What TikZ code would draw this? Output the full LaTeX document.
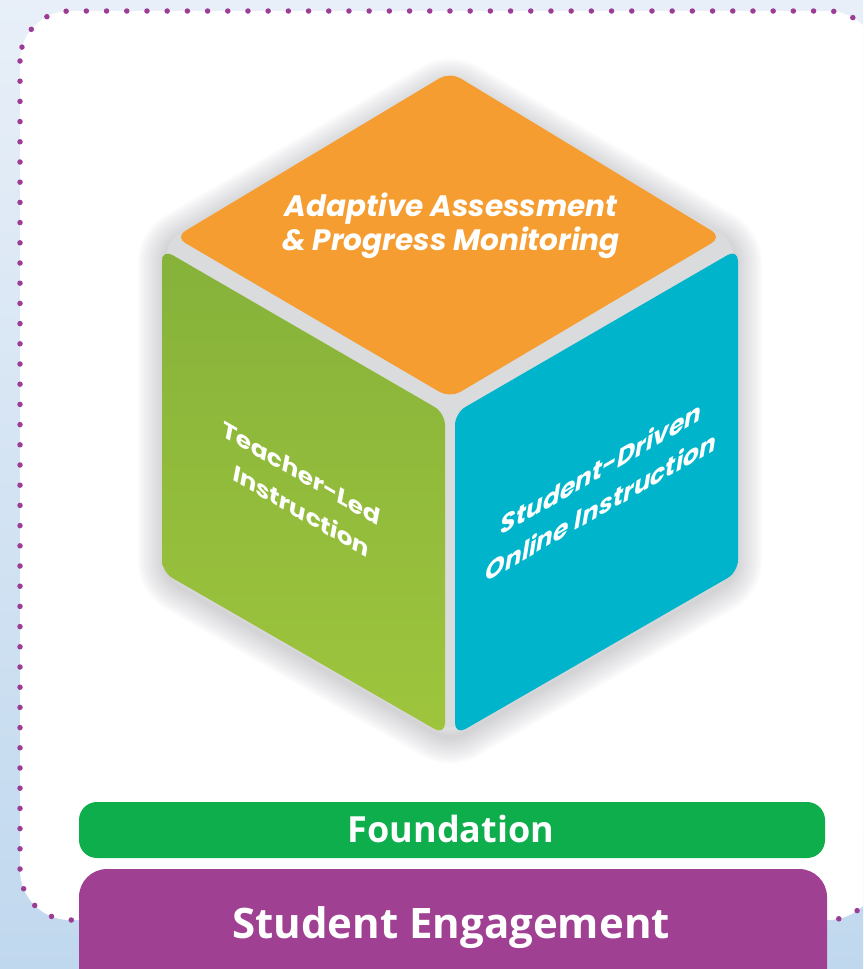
\documentclass[tikz,border=0pt]{standalone}
\usepackage{fontspec}
\setmainfont{Open Sans}
\newfontfamily\cubefont{Poppins}
\newfontfamily\barfont{Open Sans}
\definecolor{bgTop}{HTML}{E8EFF8}
\definecolor{bgBot}{HTML}{C0D8EE}
\definecolor{dotPurple}{HTML}{9C3C95}
\definecolor{faceOrange}{HTML}{F59D31}
\definecolor{faceGreenTop}{HTML}{86B23B}
\definecolor{faceGreenBot}{HTML}{9EC53C}
\definecolor{faceBlue}{HTML}{00B5CB}
\definecolor{gapGray}{HTML}{DADBDD}
\definecolor{shadowGray}{HTML}{707378}
\definecolor{foundGreen}{HTML}{0DAE4B}
\definecolor{engPurple}{HTML}{A04092}
\begin{document}
\begin{tikzpicture}[x=1pt,y=-1pt,
  face/.style={rounded corners=12pt},
  cubetext/.style={text=white, align=center, inner sep=0pt},
  bartext/.style={text=white, inner sep=0pt, anchor=base}]
\clip (0,0) rectangle (863,969);
\shade[top color=bgTop, bottom color=bgBot] (0,0) rectangle (863,969);
% white panel with dotted border
\fill[white, rounded corners=50pt] (20,11) rectangle (878,920);
\draw[dotPurple, line width=5.5pt, line cap=round, dash pattern=on 0pt off 20.2pt, rounded corners=50pt] (20,11) rectangle (878,920);
% soft shadow of the cube
\begin{scope}[yshift=-6pt]
\foreach \w in {4,8,...,52}
  \draw[shadowGray, opacity=0.022, line width=\w pt, line join=round, rounded corners=16pt]
    (450,74) -- (164,240) -- (164,572) -- (450,736) -- (736,572) -- (736,240) -- cycle;
\end{scope}
% cube base (visible in the gaps)
\fill[gapGray, rounded corners=16pt]
  (450,76) -- (166,241) -- (166,571) -- (450,732) -- (734,571) -- (734,241) -- cycle;
% faces
\fill[faceOrange, face] (450,72) -- (175,237) -- (450,398) -- (722,237) -- cycle;
\shade[face, top color=faceGreenTop, bottom color=faceGreenBot] (162,249) -- (445,413) -- (445,735) -- (162,572) -- cycle;
\fill[faceBlue, face] (455,413) -- (738,249) -- (738,572) -- (455,735) -- cycle;
% texts
\node[cubetext, font=\cubefont\bfseries\itshape\fontsize{29.5}{34}\selectfont] (topText) at (451,226) {Adaptive Assessment\\\& Progress Monitoring};
\begin{scope}[shift={(301,492)}, cm={1,-0.577,0,1,(0,0)}]
\node[cubetext, transform shape, font=\cubefont\bfseries\itshape\fontsize{24}{38}\selectfont] (leftText) at (0,0) {Teacher-Led\\Instruction};
\end{scope}
\begin{scope}[shift={(601,487)}, cm={1,0.577,0,1,(0,0)}]
\node[cubetext, transform shape, font=\cubefont\bfseries\itshape\fontsize{25}{38}\selectfont] (rightText) at (0,0) {Student-Driven\\Online Instruction};
\end{scope}
% bars
\fill[foundGreen, rounded corners=18pt] (79,802) rectangle (825,858);
\node[bartext, font=\barfont\bfseries\fontsize{36}{36}\selectfont] (foundation) at (451,842) {Foundation};
\fill[engPurple, rounded corners=28pt] (79,869) rectangle (827,1000);
\node[bartext, font=\barfont\bfseries\fontsize{42}{42}\selectfont] (engagement) at (451,938) {Student Engagement};
\end{tikzpicture}
\end{document}
